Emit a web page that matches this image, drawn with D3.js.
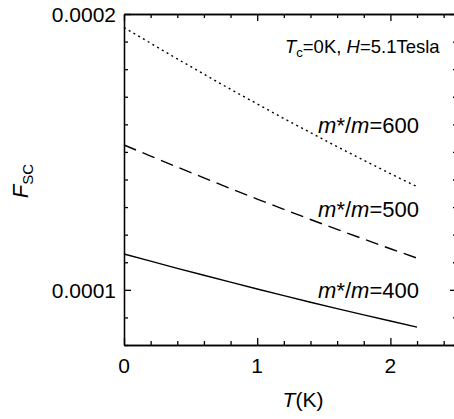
<!DOCTYPE html>
<html>
<head>
<meta charset="utf-8">
<script src="https://cdn.jsdelivr.net/npm/d3@7"></script>
<style>
  body { margin: 0; background: #fff; }
  svg { display: block; font-family: "Liberation Sans", Arial, sans-serif; }
  .axis path, .axis line { stroke: #000; stroke-width: 1.3; }
</style>
</head>
<body>
<svg id="chart" width="454" height="419"></svg>
<script>
// Temperature samples (K)
var temps = [0, 0.2, 0.4, 0.6, 0.8, 1.0, 1.2, 1.4, 1.6, 1.8, 2.0, 2.2];

// F_SC for each effective mass ratio
var fsc600 = [0.0001951, 0.0001894, 0.0001837, 0.0001782, 0.0001727, 0.0001674,
              0.0001621, 0.0001570, 0.0001519, 0.0001470, 0.0001421, 0.0001374];
var fsc500 = [0.0001525, 0.0001485, 0.0001445, 0.0001406, 0.0001367, 0.0001329,
              0.0001292, 0.0001255, 0.0001219, 0.0001184, 0.0001149, 0.0001115];
var fsc400 = [0.0001130, 0.0001104, 0.0001078, 0.0001053, 0.0001028, 0.0001003,
              0.0000979, 0.0000955, 0.0000932, 0.0000909, 0.0000887, 0.0000865];

// Axis ticks
var xMajor = [0, 1, 2];
var xMinor = [0.2, 0.4, 0.6, 0.8, 1.2, 1.4, 1.6, 1.8, 2.2, 2.4];
var yMajor = [0.0001, 0.0002];
var yMinor = [0.00008, 0.00009, 0.00011, 0.00012, 0.00013, 0.00014,
              0.00015, 0.00016, 0.00017, 0.00018, 0.00019];

var plotLeft = 124, plotTop = 14, plotRight = 457, plotBottom = 345;

var svg = d3.select('#chart');

var x = d3.scaleLinear().domain([0, 2.5]).range([plotLeft, plotRight]);
var y = d3.scaleLinear().domain([0.00008, 0.0002]).range([plotBottom, plotTop]);

// Frame with inward ticks on all four sides
var drawAxis = function(axisFn, scale, ticks, size, tx, ty){
  svg.append('g')
    .attr('class', 'axis')
    .attr('transform', 'translate(' + tx + ',' + ty + ')')
    .call(axisFn(scale).tickValues(ticks).tickSize(size).tickSizeOuter(0).tickFormat(''));
};

drawAxis(d3.axisBottom, x, xMajor, -7, 0, plotBottom);
drawAxis(d3.axisBottom, x, xMinor, -4, 0, plotBottom);
drawAxis(d3.axisTop, x, xMajor, -7, 0, plotTop);
drawAxis(d3.axisTop, x, xMinor, -4, 0, plotTop);
drawAxis(d3.axisLeft, y, yMajor, -7, plotLeft, 0);
drawAxis(d3.axisLeft, y, yMinor, -4, plotLeft, 0);
drawAxis(d3.axisRight, y, yMajor, -7, plotRight, 0);
drawAxis(d3.axisRight, y, yMinor, -4, plotRight, 0);

// Tick labels
svg.selectAll('.xlab')
  .data(xMajor)
  .enter()
  .append('text')
  .attr('x', function(d){ return x(d); })
  .attr('y', 373)
  .attr('text-anchor', 'middle')
  .style('font-size', '21px')
  .text(function(d){ return d; });

svg.selectAll('.ylab')
  .data(yMajor)
  .enter()
  .append('text')
  .attr('x', 116)
  .attr('y', function(d){ return y(d) + 8; })
  .attr('text-anchor', 'end')
  .style('font-size', '21px')
  .text(function(d){ return d.toFixed(4); });

// Curves
var series = [
  {values: fsc600, dash: '2,3.5'},
  {values: fsc500, dash: '13,7'},
  {values: fsc400, dash: null}
];

var line = d3.line()
  .x(function(d, i){ return x(temps[i]); })
  .y(function(d){ return y(d); });

svg.selectAll('.curve')
  .data(series)
  .enter()
  .append('path')
  .attr('class', 'curve')
  .attr('d', function(d){ return line(d.values); })
  .attr('fill', 'none')
  .attr('stroke', '#000')
  .attr('stroke-width', 1.4)
  .attr('stroke-dasharray', function(d){ return d.dash; });

// Curve labels
var ratios = [600, 500, 400];
var labelY = [133, 217, 298];

ratios.forEach(function(r, i){
  var t = svg.append('text')
    .attr('x', 419)
    .attr('y', labelY[i])
    .attr('text-anchor', 'end')
    .style('font-size', '22px');
  t.append('tspan').style('font-style', 'italic').text('m');
  t.append('tspan').text('*/');
  t.append('tspan').style('font-style', 'italic').text('m');
  t.append('tspan').text('=' + r);
});

// Conditions annotation
var note = svg.append('text')
  .attr('x', 285)
  .attr('y', 53)
  .style('font-size', '18.5px');
note.append('tspan').style('font-style', 'italic').text('T');
note.append('tspan').attr('dy', 4).style('font-size', '13px').text('c');
note.append('tspan').attr('dy', -4).text('=0K, ');
note.append('tspan').style('font-style', 'italic').text('H');
note.append('tspan').text('=5.1Tesla');

// Axis titles
var xt = svg.append('text')
  .attr('x', 303)
  .attr('y', 407)
  .attr('text-anchor', 'middle')
  .style('font-size', '21px');
xt.append('tspan').style('font-style', 'italic').text('T');
xt.append('tspan').text('(K)');

var yt = svg.append('text')
  .attr('transform', 'translate(28,181) rotate(-90)')
  .attr('text-anchor', 'middle')
  .style('font-size', '22px');
yt.append('tspan').style('font-style', 'italic').text('F');
yt.append('tspan').attr('dy', 5).style('font-size', '15px').text('SC');
</script>
</body>
</html>
